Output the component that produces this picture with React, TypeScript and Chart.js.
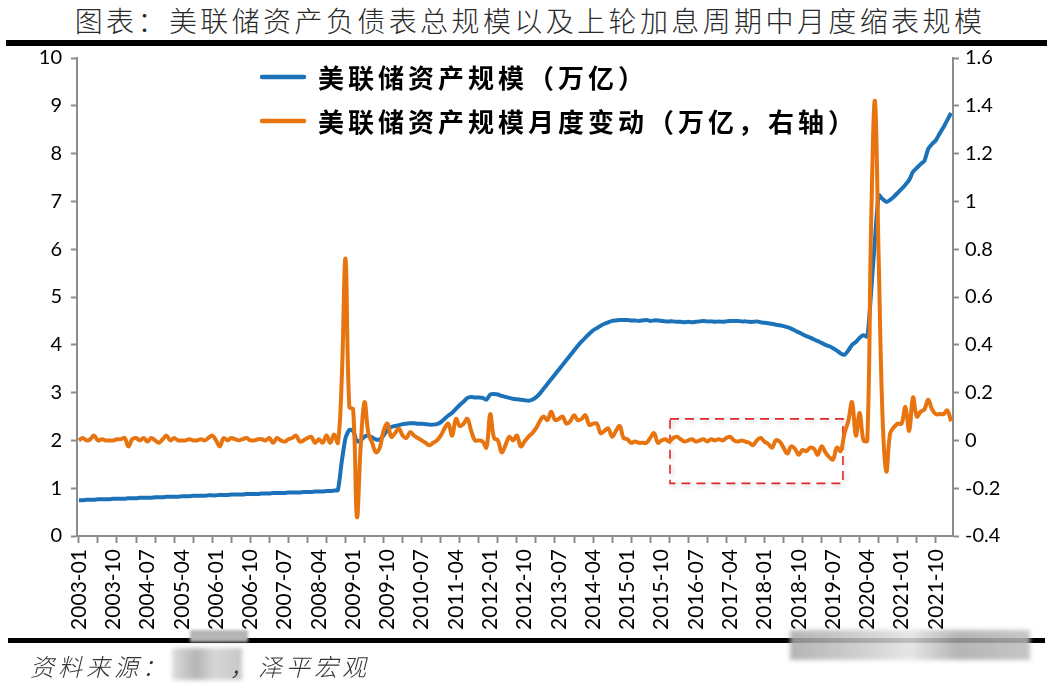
import React, { useEffect, useRef } from 'react';
import { Chart, registerables } from 'chart.js';

Chart.register(...registerables);

// ---------- data ----------
const START_YEAR = 2003;
const POINT_COUNT = 230; // 2003-01 .. 2022-02, monthly
const LABEL_STEP = 9;
const TICK_MARK_STEP = 5;

const CATEGORIES: string[] = [];
for (let i = 0; i < POINT_COUNT; i++) {
  const y = START_YEAR + Math.floor(i / 12);
  const m = (i % 12) + 1;
  CATEGORIES.push(`${y}-${m < 10 ? '0' + m : m}`);
}

// Fed total assets (trillion USD), left axis
const FED_ASSETS = [
  // 2003
  0.75, 0.75, 0.76, 0.76, 0.76, 0.77, 0.77, 0.77, 0.77, 0.78, 0.78, 0.78,
  // 2004
  0.78, 0.79, 0.79, 0.79, 0.80, 0.80, 0.80, 0.80, 0.81, 0.81, 0.81, 0.82,
  // 2005
  0.82, 0.82, 0.82, 0.83, 0.83, 0.83, 0.84, 0.84, 0.84, 0.84, 0.85, 0.85,
  // 2006
  0.85, 0.86, 0.86, 0.86, 0.87, 0.87, 0.87, 0.87, 0.88, 0.88, 0.88, 0.88,
  // 2007
  0.89, 0.89, 0.89, 0.90, 0.90, 0.90, 0.90, 0.91, 0.91, 0.91, 0.91, 0.92,
  // 2008
  0.92, 0.92, 0.93, 0.93, 0.93, 0.94, 0.94, 0.95, 0.96, 1.55, 2.05, 2.22,
  // 2009
  2.20, 1.98, 2.00, 2.08, 2.10, 2.06, 2.02, 2.02, 2.10, 2.22, 2.28, 2.30,
  // 2010
  2.32, 2.34, 2.35, 2.36, 2.36, 2.35, 2.35, 2.34, 2.33, 2.33, 2.34, 2.38,
  // 2011
  2.45, 2.52, 2.58, 2.66, 2.74, 2.81, 2.89, 2.91, 2.90, 2.90, 2.89, 2.85,
  // 2012
  2.96, 2.97, 2.96, 2.93, 2.91, 2.89, 2.87, 2.86, 2.85, 2.84, 2.83, 2.85,
  // 2013
  2.90, 2.98, 3.08, 3.18, 3.28, 3.38, 3.48, 3.58, 3.68, 3.78, 3.88, 3.98,
  // 2014
  4.07, 4.15, 4.23, 4.30, 4.35, 4.40, 4.44, 4.47, 4.50, 4.51, 4.52, 4.52,
  // 2015
  4.52, 4.51, 4.51, 4.50, 4.51, 4.52, 4.50, 4.51, 4.51, 4.50, 4.49, 4.49,
  // 2016
  4.49, 4.48, 4.48, 4.47, 4.48, 4.47, 4.48, 4.49, 4.50, 4.49, 4.49, 4.48,
  // 2017
  4.49, 4.48, 4.49, 4.50, 4.50, 4.50, 4.49, 4.49, 4.48, 4.48, 4.49, 4.47,
  // 2018
  4.46, 4.45, 4.44, 4.42, 4.41, 4.39, 4.37, 4.34, 4.30, 4.26, 4.22, 4.18,
  // 2019
  4.15, 4.11, 4.08, 4.04, 4.00, 3.97, 3.93, 3.88, 3.82, 3.79, 3.88, 4.00,
  // 2020
  4.06, 4.15, 4.20, 4.17, 5.10, 6.20, 7.13, 7.05, 6.99, 7.03, 7.10, 7.18,
  // 2021
  7.26, 7.35, 7.45, 7.62, 7.70, 7.78, 7.85, 8.10, 8.20, 8.28, 8.42, 8.55,
  // 2022
  8.70, 8.85,
];

// Monthly change of Fed assets (trillion USD), right axis
const MONTHLY_CHANGE = [
  // 2003
  0.0, 0.01, 0.0, 0.005, 0.02, 0.0, 0.005, 0.0, 0.0, 0.0, 0.005, 0.005,
  // 2004
  0.01, -0.025, 0.005, 0.01, 0.0, 0.01, -0.005, 0.01, 0.0, -0.01, 0.005, 0.02,
  // 2005
  0.0, 0.01, 0.0, 0.0, 0.0, 0.005, 0.0, 0.0, 0.005, 0.0, 0.01, 0.02,
  // 2006
  0.0, -0.025, 0.01, 0.0, 0.01, 0.005, 0.0, 0.005, 0.01, 0.0, 0.0, 0.005,
  // 2007
  0.005, 0.0, 0.01, -0.01, 0.01, 0.0, -0.005, 0.005, 0.01, 0.02, -0.005, 0.0,
  // 2008
  0.01, 0.015, -0.01, 0.005, -0.01, 0.02, -0.01, 0.025, -0.01, 0.25, 0.76, 0.14,
  // 2009
  0.13, -0.32, -0.02, 0.16, 0.03, -0.01, -0.05, -0.03, 0.04, 0.07, 0.015, 0.03,
  // 2010
  0.05, 0.02, 0.01, 0.035, 0.02, 0.01, 0.0, -0.01, -0.02, -0.01, 0.0, 0.02,
  // 2011
  0.05, 0.07, 0.02, 0.09, 0.06, 0.07, 0.09, 0.04, 0.0, 0.0, -0.005, -0.03,
  // 2012
  0.11, 0.01, 0.0, -0.05, -0.02, 0.015, 0.0, 0.02, -0.025, -0.005, 0.015, 0.03,
  // 2013
  0.05, 0.08, 0.1, 0.085, 0.12, 0.085, 0.09, 0.1, 0.07, 0.08, 0.105, 0.085,
  // 2014
  0.09, 0.105, 0.065, 0.07, 0.07, 0.03, 0.04, 0.05, 0.015, 0.04, 0.06, 0.01,
  // 2015
  0.005, -0.01, -0.005, -0.01, -0.01, -0.01, 0.01, 0.03, -0.01, 0.0, 0.005, -0.005,
  // 2016
  0.01, 0.015, 0.005, -0.005, 0.0, 0.005, -0.005, 0.0, 0.005, -0.005, 0.005, 0.0,
  // 2017
  0.005, 0.0, 0.01, 0.015, 0.0, -0.005, 0.0, -0.005, -0.01, -0.02, 0.0, 0.01,
  // 2018
  -0.005, -0.015, -0.03, 0.0, -0.005, -0.03, -0.055, -0.025, -0.035, -0.06, -0.04, -0.045,
  // 2019
  -0.03, -0.035, -0.06, -0.025, -0.05, -0.07, -0.08, -0.03, -0.045, 0.03, 0.08, 0.16,
  // 2020
  0.02, 0.115, 0.0, 0.0, 0.9, 1.42, 0.75, 0.1, -0.13, 0.03, 0.055, 0.07,
  // 2021
  0.07, 0.14, 0.04, 0.18, 0.1, 0.12, 0.13, 0.17, 0.13, 0.11, 0.11, 0.11,
  // 2022
  0.125, 0.08,
];

const SERIES_NAMES = ['美联储资产规模（万亿）', '美联储资产规模月度变动（万亿，右轴）'];
const SERIES_COLORS = ['#1C72B8', '#E8740F'];

const LEFT_MIN = 0;
const LEFT_MAX = 10;
const LEFT_STEP = 1;
const RIGHT_MIN = -0.4;
const RIGHT_MAX = 1.6;
const RIGHT_STEP = 0.2;

// highlighted period (category index) and range on right axis
const HIGHLIGHT_FROM = 155.2;
const HIGHLIGHT_TO = 200.6;
const HIGHLIGHT_TOP = 0.09;
const HIGHLIGHT_BOTTOM = -0.18;

const TITLE = '图表：美联储资产负债表总规模以及上轮加息周期中月度缩表规模';

const AXIS_COLOR = '#8c8c8c';
const NUM_FONT = 'Lato, "Liberation Sans", sans-serif';

const overlayPlugin = {
  id: 'overlay',
  beforeDatasetsDraw(chart: any) {
    const { ctx, scales } = chart;
    const x = scales.x;
    const y1 = scales.y1;
    const l = x.getPixelForValue(HIGHLIGHT_FROM);
    const r = x.getPixelForValue(HIGHLIGHT_TO);
    const t = y1.getPixelForValue(HIGHLIGHT_TOP);
    const b = y1.getPixelForValue(HIGHLIGHT_BOTTOM);
    ctx.save();
    ctx.shadowColor = 'rgba(0,0,0,0.22)';
    ctx.shadowBlur = 4;
    ctx.shadowOffsetX = 2;
    ctx.shadowOffsetY = 2;
    ctx.strokeStyle = '#E0282C';
    ctx.lineWidth = 1.6;
    ctx.setLineDash([9, 6]);
    ctx.strokeRect(l, t, r - l, b - t);
    ctx.restore();
  },
  afterDraw(chart: any) {
    const { ctx, chartArea } = chart;
    const x0 = chartArea.left + 185;
    const rows = [chartArea.top + 19, chartArea.top + 63];
    ctx.save();
    ctx.font = 'bold 26px "Noto Sans CJK SC", sans-serif';
    ctx.textBaseline = 'middle';
    ctx.textAlign = 'left';
    try {
      (ctx as any).letterSpacing = '4px';
    } catch (e) {
      /* ignore */
    }
    SERIES_NAMES.forEach((name, i) => {
      const y = rows[i];
      ctx.strokeStyle = SERIES_COLORS[i];
      ctx.lineWidth = 4.5;
      ctx.lineCap = 'round';
      ctx.beginPath();
      ctx.moveTo(x0, y);
      ctx.lineTo(x0 + 42, y);
      ctx.stroke();
      ctx.fillStyle = '#000';
      ctx.fillText(name, x0 + 56, y + 1);
    });
    ctx.restore();
  },
};

export default function App() {
  const canvasRef = useRef<HTMLCanvasElement | null>(null);

  useEffect(() => {
    const canvas = canvasRef.current;
    if (!canvas) return;
    const chart = new Chart(canvas, {
      type: 'line',
      data: {
        labels: CATEGORIES,
        datasets: [
          {
            label: SERIES_NAMES[1],
            data: MONTHLY_CHANGE,
            yAxisID: 'y1',
            borderColor: SERIES_COLORS[1],
            backgroundColor: SERIES_COLORS[1],
            borderWidth: 4,
            tension: 0.4,
            pointRadius: 0,
            order: 0,
          },
          {
            label: SERIES_NAMES[0],
            data: FED_ASSETS,
            yAxisID: 'y',
            borderColor: SERIES_COLORS[0],
            backgroundColor: SERIES_COLORS[0],
            borderWidth: 4,
            tension: 0.2,
            pointRadius: 0,
            order: 1,
          },
        ],
      },
      options: {
        responsive: false,
        animation: false,
        devicePixelRatio: 1,
        layout: { padding: { top: 58, left: 0, right: 0, bottom: 0 } },
        plugins: {
          legend: { display: false },
          title: { display: false },
          tooltip: { enabled: false },
        },
        elements: { point: { radius: 0 } },
        scales: {
          x: {
            type: 'category',
            offset: true,
            border: { display: true, color: AXIS_COLOR, width: 2 },
            grid: {
              drawOnChartArea: false,
              drawTicks: true,
              tickLength: 7,
              tickWidth: 2,
              tickColor: (c: any) => (c.index % TICK_MARK_STEP === 0 ? AXIS_COLOR : 'rgba(0,0,0,0)'),
            },
            ticks: {
              autoSkip: false,
              minRotation: 90,
              maxRotation: 90,
              padding: 6,
              color: '#000',
              font: { family: NUM_FONT, size: 21 },
              callback: (_v: any, i: number) => (i % LABEL_STEP === 0 ? CATEGORIES[i] : ''),
            },
            afterFit: (s: any) => {
              s.height = 153;
            },
          },
          y: {
            position: 'left',
            min: LEFT_MIN,
            max: LEFT_MAX,
            border: { display: true, color: AXIS_COLOR, width: 2 },
            grid: { drawOnChartArea: false, tickLength: 6, tickWidth: 2, tickColor: AXIS_COLOR },
            ticks: {
              stepSize: LEFT_STEP,
              padding: 9,
              color: '#000',
              font: { family: NUM_FONT, size: 20 },
            },
            afterFit: (s: any) => {
              s.width = 77;
            },
          },
          y1: {
            position: 'right',
            min: RIGHT_MIN,
            max: RIGHT_MAX,
            border: { display: true, color: AXIS_COLOR, width: 2 },
            grid: { drawOnChartArea: false, tickLength: 6, tickWidth: 2, tickColor: AXIS_COLOR },
            ticks: {
              stepSize: RIGHT_STEP,
              padding: 6,
              color: '#000',
              font: { family: NUM_FONT, size: 20 },
              callback: (v: any) => String(Number(Number(v).toFixed(1))),
            },
            afterFit: (s: any) => {
              s.width = 100;
            },
          },
        },
      } as any,
      plugins: [overlayPlugin],
    });
    return () => chart.destroy();
  }, []);

  return (
    <div
      style={{
        position: 'absolute',
        left: 0,
        top: 0,
        width: 1053,
        height: 689,
        background: '#fff',
        overflow: 'hidden',
      }}
    >
      <div
        style={{
          position: 'absolute',
          left: 0,
          top: 0,
          width: 1060,
          textAlign: 'center',
          fontFamily: '"Noto Sans CJK SC", sans-serif',
          fontWeight: 300,
          fontSize: 28,
          lineHeight: '40px',
          letterSpacing: '3.4px',
          color: '#2a2a2a',
          whiteSpace: 'nowrap',
        }}
      >
        {TITLE}
      </div>
      <div style={{ position: 'absolute', left: 6, top: 40, width: 1041, height: 6, background: '#000' }} />
      <canvas
        ref={canvasRef}
        width={1053}
        height={689}
        style={{ position: 'absolute', left: 0, top: 0, width: 1053, height: 689 }}
      />
      <div style={{ position: 'absolute', left: 8, top: 638, width: 1037, height: 5, background: '#000' }} />
      <div
        style={{
          position: 'absolute',
          left: 190,
          top: 630,
          width: 58,
          height: 12,
          background: '#b5b5b5',
          filter: 'blur(1.5px)',
        }}
      />
      <div
        style={{
          position: 'absolute',
          left: 172,
          top: 648,
          width: 70,
          height: 32,
          background: 'linear-gradient(90deg,#d8d8d8,#a8a8a8 35%,#cfcfcf 60%,#bdbdbd)',
          filter: 'blur(2px)',
          opacity: 0.85,
        }}
      />
      <div
        style={{
          position: 'absolute',
          left: 790,
          top: 630,
          width: 240,
          height: 30,
          background: 'linear-gradient(90deg,#a8a8a8,#c8c8c8 30%,#e2e2e2 50%,#a9a9a9 70%,#bcbcbc)',
          filter: 'blur(2px)',
          opacity: 0.85,
        }}
      />
      <div
        style={{
          position: 'absolute',
          left: 30,
          top: 646,
          fontFamily: '"Noto Sans CJK SC", sans-serif',
          fontStyle: 'italic',
          fontWeight: 300,
          fontSize: 24,
          lineHeight: '40px',
          letterSpacing: '4px',
          color: '#333',
          whiteSpace: 'nowrap',
        }}
      >
        资料来源：
        <span style={{ display: 'inline-block', width: 60 }} />
        ，泽平宏观
      </div>
    </div>
  );
}
